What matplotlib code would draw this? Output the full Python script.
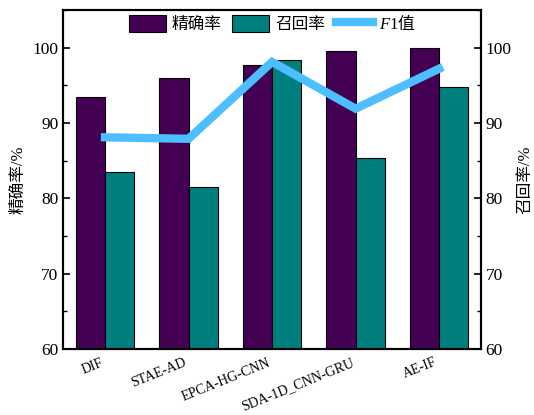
import matplotlib
matplotlib.use("Agg")
import matplotlib.pyplot as plt
import numpy as np
from matplotlib.ticker import MultipleLocator

plt.rcParams['font.family'] = ['Liberation Serif', 'Noto Sans CJK SC']
plt.rcParams['mathtext.fontset'] = 'custom'
plt.rcParams['mathtext.it'] = 'Liberation Serif:italic'
plt.rcParams['mathtext.bf'] = 'Liberation Serif'
plt.rcParams['mathtext.rm'] = 'Noto Sans CJK SC'

models = ['DIF', 'STAE-AD', 'EPCA-HG-CNN', 'SDA-1D_CNN-GRU', 'AE-IF']
precision = [93.5, 96.0, 97.7, 99.6, 100.0]
recall = [83.5, 81.5, 98.4, 85.3, 94.8]
f1 = [88.1, 87.9, 98.1, 91.9, 97.2]

c_prec = '#440154'
c_rec = '#007F7F'
c_f1 = '#4DBEFF'

fig = plt.figure(figsize=(5.34, 4.15), dpi=100)
ax = fig.add_axes([0.1185, 0.159, 0.782, 0.817])

x = np.arange(len(models))
w = 0.35
b1 = ax.bar(x - w / 2, precision, w, color=c_prec, edgecolor='black', linewidth=0.8)
b2 = ax.bar(x + w / 2, recall, w, color=c_rec, edgecolor='black', linewidth=0.8)

ax.set_xlim(-0.5, 4.5)
ax.set_ylim(60, 105)
ax.yaxis.set_major_locator(MultipleLocator(10))
ax.yaxis.set_minor_locator(MultipleLocator(5))
ax.set_xticks(x)
ax.set_xticklabels(models, rotation=22, ha='right', fontsize=10)
ax.tick_params(axis='x', length=0, pad=5)
ax.tick_params(axis='y', which='major', direction='in', length=5, width=1.2, labelsize=12.5)
ax.tick_params(axis='y', which='minor', direction='in', length=3, width=1.0)
ax.set_ylabel('精确率/%', fontsize=12)

ax2 = ax.twinx()
ax2.set_ylim(60, 105)
ax2.yaxis.set_major_locator(MultipleLocator(10))
ax2.yaxis.set_minor_locator(MultipleLocator(5))
ax2.tick_params(axis='y', which='major', direction='in', length=5, width=1.2, labelsize=12.5)
ax2.tick_params(axis='y', which='minor', direction='in', length=3, width=1.0)
ax2.set_ylabel('召回率/%', fontsize=12)
line, = ax2.plot(x, f1, color=c_f1, linewidth=6, solid_joinstyle='miter')

for a in (ax, ax2):
    for s in a.spines.values():
        s.set_linewidth(1.5)

ax2.legend([b1, b2, line], ['精确率', '召回率', r'$\mathit{F}\mathbf{1}\mathrm{值}$'],
           loc='upper center', ncol=3, frameon=False, fontsize=12,
           handlelength=2.2, handleheight=1.15, columnspacing=0.65,
           handletextpad=0.36, bbox_to_anchor=(0.5, 1.035))

fig.savefig('out.png', dpi=100)
